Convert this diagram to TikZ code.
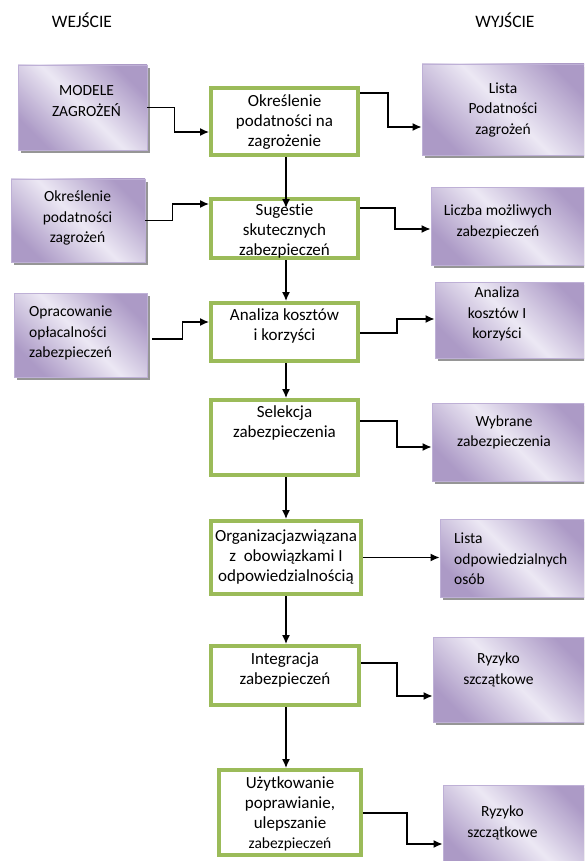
\documentclass[tikz,border=0pt]{standalone}
\usepackage{fontspec}
\setmainfont{Carlito}[Ligatures=NoCommon]
\usetikzlibrary{arrows.meta,calc,shadows}

\definecolor{pdark}{RGB}{172,154,198}
\definecolor{plight}{RGB}{236,232,244}
\definecolor{pborder}{RGB}{190,176,214}
\definecolor{gedge}{RGB}{155,187,89}
\definecolor{shade}{RGB}{150,150,150}

\tikzset{
  gbox/.style={draw=gedge, line width=4pt, fill=white, rectangle, inner sep=0pt},
  pbox/.style={draw=pborder, line width=0.8pt, rectangle, inner sep=0pt,
    top color=pdark, bottom color=pdark, middle color=plight, shading angle=-45,
    drop shadow={shadow xshift=3pt, shadow yshift=-3pt, fill=shade, opacity=1}},
  ctext/.style={align=center, inner sep=0pt, font=\fontsize{17}{20}\selectfont},
  stext/.style={align=center, inner sep=0pt, font=\fontsize{15.5}{20.5}\selectfont},
  htext/.style={inner sep=0pt, font=\fontsize{17.5}{20}\selectfont},
  arr/.style={line width=1.4pt, -{Latex[length=9pt,width=8pt]}},
}

\begin{document}
\begin{tikzpicture}[x=1pt, y=-1pt]
\clip (0,0) rectangle (584,861);
\fill[white] (0,0) rectangle (584,861);

% column headers
\node[htext] (hin)  at (82,20)  {WEJŚCIE};
\node[htext] (hout) at (505,20) {WYJŚCIE};

% input boxes
\node[pbox, minimum width=129pt, minimum height=85pt] (l1) at (82.5,107.5) {};
\node[pbox, minimum width=134pt, minimum height=83pt] (l2) at (78,220.5) {};
\node[pbox, minimum width=133pt, minimum height=84pt] (l3) at (80.5,335) {};
\node[stext] (l1t) at (86.5,101) {MODELE\\ZAGROŻEŃ};
\node[stext] (l2t) at (77.5,218) {Określenie\\podatności\\zagrożeń};
\node[stext, align=left, anchor=west] (l3t) at (29,333) {Opracowanie\\opłacalności\\zabezpieczeń};

% process steps
\node[gbox, minimum width=147pt, minimum height=67pt] (c1) at (284.5,121.5) {};
\node[gbox, minimum width=147pt, minimum height=59pt] (c2) at (284.5,228.5) {};
\node[gbox, minimum width=147pt, minimum height=58pt] (c3) at (284.5,332) {};
\node[gbox, minimum width=147pt, minimum height=75pt] (c4) at (284.5,437.5) {};
\node[gbox, minimum width=150pt, minimum height=73pt] (c5) at (286,557.5) {};
\node[gbox, minimum width=148pt, minimum height=59pt] (c6) at (285,675.5) {};
\node[gbox, minimum width=142pt, minimum height=85pt] (c7) at (290,812.5) {};
\node[ctext] (c1t) at (284.5,122) {Określenie\\podatności na\\zagrożenie};
\node[ctext] (c2t) at (284.5,231) {Sugestie\\skutecznych\\zabezpieczeń};
\node[ctext] (c3t) at (284.5,325.5) {Analiza kosztów\\i korzyści};
\node[ctext] (c4t) at (284.5,423) {Selekcja\\zabezpieczenia};
\node[ctext] (c5t) at (286,557) {Organizacjazwiązana\\z~ obowiązkami I\\odpowiedzialnością};
\node[ctext] (c6t) at (285,670) {Integracja\\zabezpieczeń};
\node[ctext] (c7t) at (290,814) {Użytkowanie\\poprawianie,\\ulepszanie\\{\fontsize{15.5}{19}\selectfont zabezpieczeń}};

% output boxes
\node[pbox, minimum width=168pt, minimum height=91pt] (r1) at (506,109.5) {};
\node[pbox, minimum width=159pt, minimum height=78pt] (r2) at (510.5,226) {};
\node[pbox, minimum width=155pt, minimum height=76pt] (r3) at (512.5,320) {};
\node[pbox, minimum width=158pt, minimum height=78pt] (r4) at (511,442) {};
\node[pbox, minimum width=150pt, minimum height=78pt] (r5) at (515,558) {};
\node[pbox, minimum width=157pt, minimum height=85pt] (r6) at (511.5,679.5) {};
\node[pbox, minimum width=147pt, minimum height=85pt] (r7) at (516.5,827.5) {};
\node[stext] (r1t) at (503,110) {Lista\\Podatności\\zagrożeń};
\node[stext] (r2t) at (498,222) {Liczba możliwych\\zabezpieczeń};
\node[stext] (r3t) at (497,314) {Analiza\\kosztów I\\korzyści};
\node[stext] (r4t) at (504,432.5) {Wybrane\\zabezpieczenia};
\node[stext, align=left, anchor=west] (r5t) at (454,559) {Lista\\odpowiedzialnych\\osób};
\node[stext] (r6t) at (498.5,670) {Ryzyko\\szczątkowe};
\node[stext] (r7t) at (502.5,823) {Ryzyko\\szczątkowe};

% main flow
\coordinate (vx) at (286,0);
\draw[arr] (c1.south -| vx) -- ($(c2.north -| vx)+(0,11)$);
\draw[arr] (c2.south -| vx) -- (c3.north -| vx);
\draw[arr] (c3.south -| vx) -- (c4.north -| vx);
\draw[arr] (c4.south -| vx) -- (c5.north -| vx);
\draw[arr] (c5.south -| vx) -- (c6.north -| vx);
\draw[arr] (c6.south -| vx) -- (c7.north -| vx);

% inputs
\draw[arr] (l1.east) -- ++(27,0) |- ($(c1.west)+(0,10.5)$);
\draw[arr] (l2.east) -- ++(27,0) |- ($(c2.west)+(0,-24.5)$);
\draw[arr] ($(l3.east)+(5,4)$) -- ++(30,0) |- ($(c3.west)+(0,-10)$);

% outputs
\draw[arr] ($(c1.east)+(0,-28.5)$) -- ++(28,0) |- ($(r1.west)+(0,17.5)$);
\draw[arr] ($(c2.east)+(0,-20.5)$) -- ++(35,0) |- ($(r2.west)+(0,3)$);
\draw[arr] ($(c3.east)+(0,1)$) -- ++(37,0) |- ($(r3.west)+(0,-1)$);
\draw[arr] ($(c4.east)+(0,-16.5)$) -- ++(37,0) |- ($(r4.west)+(0,5)$);
\draw[arr] (c5.east) -- (c5.east -| r5.west);
\draw[arr] ($(c6.east)+(0,-12.5)$) -- ++(36,0) |- ($(r6.west)+(0,16.5)$);
\draw[arr] ($(c7.east)+(0,0.5)$) -- ++(44,0) |- ($(r7.west)+(0,16.5)$);
\end{tikzpicture}
\end{document}
